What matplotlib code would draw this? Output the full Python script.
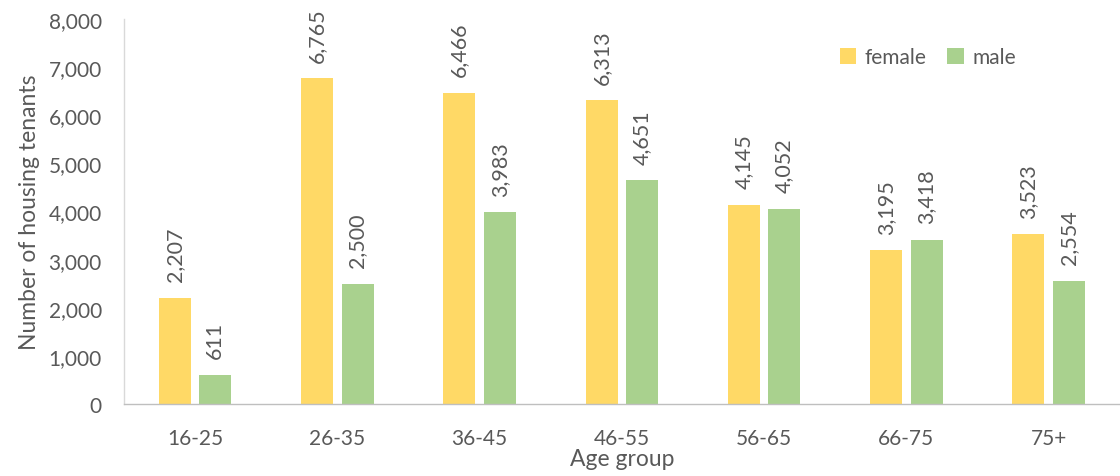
import matplotlib
matplotlib.use("Agg")
import matplotlib.pyplot as plt
import numpy as np

categories = ["16-25", "26-35", "36-45", "46-55", "56-65", "66-75", "75+"]
female = [2207, 6765, 6466, 6313, 4145, 3195, 3523]
male = [611, 2500, 3983, 4651, 4052, 3418, 2554]
yticks = [0, 1000, 2000, 3000, 4000, 5000, 6000, 7000, 8000]

plt.rcParams['font.family'] = ['Lato', 'DejaVu Sans']
grey = '#595959'

fig = plt.figure(figsize=(11.2, 4.77), dpi=100)
ax = fig.add_axes([0.1107, 0.151, 0.889, 0.807])

x = np.arange(len(categories))
w = 0.225
off = 0.142
bf = ax.bar(x - off, female, width=w, color='#FFD966', label='female')
bm = ax.bar(x + off, male, width=w, color='#A9D18E', label='male')

for bars, vals in ((bf, female), (bm, male)):
    for b, v in zip(bars, vals):
        ax.annotate(f"{v:,}", (b.get_x() + b.get_width() / 2, v),
                    xytext=(0, 12), textcoords='offset points',
                    rotation=90, ha='center', va='bottom',
                    fontsize=15.5, color=grey)

ax.set_xlim(-0.5, 6.5)
ax.set_ylim(0, 8000)
ax.set_yticks(yticks)
ax.set_yticklabels([f"{t:,}" for t in yticks])
ax.set_xticks(x)
ax.set_xticklabels(categories)
ax.tick_params(axis='both', length=0, labelsize=15, colors=grey)
ax.tick_params(axis='x', pad=17)
ax.tick_params(axis='y', pad=16)

for s in ['top', 'right']:
    ax.spines[s].set_visible(False)
ax.spines['left'].set_color('#D9D9D9')
ax.spines['bottom'].set_color('#BFBFBF')
ax.spines['left'].set_linewidth(1.0)
ax.spines['bottom'].set_linewidth(1.0)

ax.set_xlabel("Age group", fontsize=16.5, color=grey, labelpad=0)
ax.set_ylabel("Number of housing tenants", fontsize=16.5, color=grey, labelpad=6)

ax.legend(loc='upper left', bbox_to_anchor=(0.7, 0.975), ncol=2, frameon=False,
          fontsize=15, labelcolor=grey, handlelength=0.8, handleheight=0.8,
          handletextpad=0.4, columnspacing=1.0)

fig.savefig("out.png", dpi=100)
